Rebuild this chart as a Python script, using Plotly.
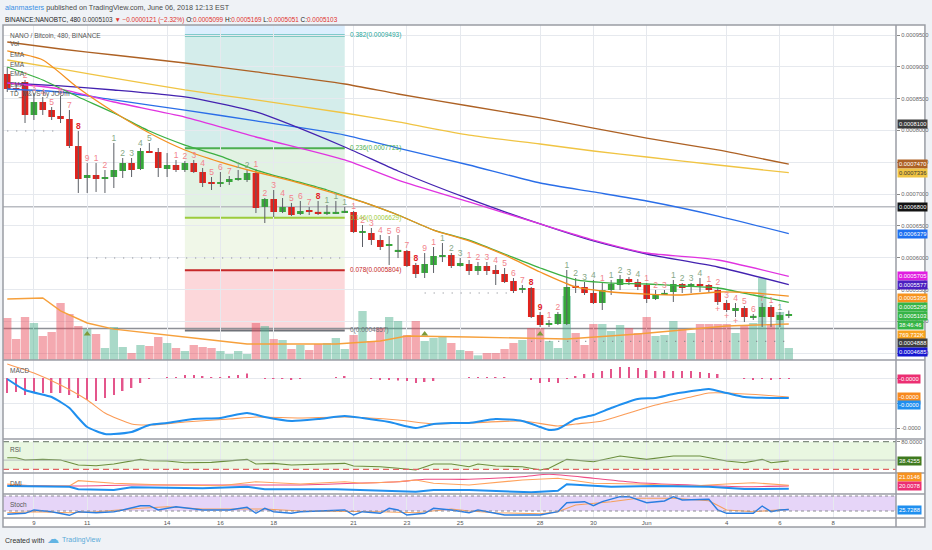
import pandas as pd
import plotly.graph_objects as go

FONT = "Liberation Sans, Arial, sans-serif"

# NANO/BTC, Binance, 480 min bars from 8 May 2018 (prices in 1e-7 BTC)
BAR_START = "2018-05-08 00:00"
X_RANGE = ["2018-05-07 20:10", "2018-06-10 08:34"]

opens_e7 = [8887, 8660, 8761, 8243, 8447, 8321, 8227, 8180, 7755, 7253,
            7300, 7237, 7268, 7363, 7488, 7394, 7661, 7661, 7394, 7457,
            7378, 7488, 7347, 7190, 7158, 7190, 7221, 7221, 7331, 6797,
            6923, 6718, 6797, 6687, 6750, 6718, 6710, 6702, 6718, 6718,
            6404, 6388, 6278, 6184, 6105, 6105, 5885, 5760, 5885, 6011,
            6042, 5870, 5901, 5791, 5870, 5807, 5744, 5634, 5492, 5524,
            5099, 4942, 4958, 4958, 5555, 5540, 5445, 5288, 5492, 5571,
            5665, 5618, 5571, 5351, 5429, 5461, 5587, 5540, 5571, 5571,
            5492, 5288, 5178, 5209, 5068, 5068, 5225, 5021, 5099]
highs_e7 = [8997, 8730, 8793, 8588, 8526, 8368, 8541, 8321, 7991, 7488,
            7488, 7378, 7803, 7567, 7567, 7724, 7803, 7724, 7645, 7535,
            7520, 7535, 7410, 7268, 7347, 7284, 7378, 7378, 7394, 6938,
            7064, 6938, 6860, 6891, 6797, 6891, 6828, 6891, 6797, 6734,
            6514, 6467, 6357, 6341, 6357, 6121, 5917, 6074, 6168, 6231,
            6074, 5995, 5964, 5932, 5932, 5885, 5838, 5681, 5571, 5540,
            5147, 5021, 5147, 5807, 5681, 5618, 5650, 5602, 5650, 5728,
            5697, 5665, 5602, 5492, 5492, 5650, 5602, 5602, 5681, 5587,
            5540, 5335, 5288, 5241, 5115, 5288, 5257, 5147, 5169]
lows_e7 = [8604, 8604, 8117, 8164, 8243, 8164, 8117, 7724, 7017, 7017,
           7033, 7017, 7095, 7253, 7268, 7378, 7645, 7268, 7268, 7347,
           7347, 7331, 7111, 7064, 7111, 7143, 7210, 7190, 6702, 6545,
           6640, 6702, 6655, 6671, 6671, 6671, 6671, 6695, 6702, 6388,
           6168, 6200, 6121, 5885, 5995, 5854, 5681, 5681, 5760, 5932,
           5838, 5860, 5728, 5728, 5728, 5571, 5602, 5445, 5445, 5052,
           4911, 4911, 4942, 4942, 5445, 5414, 5272, 5178, 5414, 5492,
           5571, 5492, 5288, 5335, 5414, 5304, 5445, 5445, 5461, 5461,
           5257, 5147, 5068, 4989, 5021, 4911, 4911, 4911, 5051]
closes_e7 = [8651, 8636, 8243, 8447, 8321, 8211, 8180, 7755, 7237, 7300,
             7237, 7268, 7378, 7488, 7378, 7677, 7655, 7410, 7457, 7378,
             7488, 7347, 7174, 7158, 7190, 7237, 7253, 7331, 6781, 6923,
             6718, 6797, 6671, 6734, 6718, 6702, 6712, 6718, 6734, 6404,
             6406, 6278, 6168, 6215, 6121, 5870, 5744, 5901, 6027, 6042,
             5870, 5917, 5791, 5870, 5791, 5744, 5618, 5477, 5524, 5068,
             4942, 4974, 5115, 5540, 5540, 5445, 5288, 5492, 5587, 5665,
             5618, 5540, 5351, 5429, 5445, 5587, 5524, 5587, 5568, 5492,
             5304, 5178, 5209, 5068, 5084, 5225, 5068, 5099, 5103]
volume_k = [899, 449, 920, 792, 514, 599, 1220, 984, 728, 663,
            556, 257, 706, 278, 150, 321, 300, 492, 364, 257,
            193, 321, 278, 257, 193, 128, 193, 128, 792, 728,
            449, 428, 235, 321, 214, 342, 364, 471, 235, 535,
            1049, 407, 685, 920, 835, 535, 835, 407, 471, 492,
            364, 214, 193, 100, 150, 150, 235, 364, 428, 685,
            685, 407, 257, 1370, 578, 321, 770, 770, 621, 749,
            685, 578, 920, 514, 535, 835, 663, 578, 770, 770,
            770, 770, 578, 749, 792, 1755, 770, 1027, 257]

# moving averages read at selected bars
ema_idx = [0, 6, 12, 20, 28, 38, 44, 52, 60, 66, 72, 80, 88]
ema_brown_e7 = [9390, 9280, 9186, 9060, 8919, 8730, 8573, 8384, 8196, 8038, 7881, 7693, 7470]
ema_gold_e7 = [9107, 8966, 8824, 8636, 8479, 8274, 8133, 7928, 7787, 7677, 7583, 7457, 7336]
ema_blue_e7 = [8651, 8604, 8479, 8321, 8149, 7928, 7724, 7457, 7174, 7033, 6891, 6655, 6379]
ema_indigo_e7 = [8746, 8699, 8636, 8526, 8290, 7740, 7363, 6923, 6530, 6263, 6058, 5854, 5577]
ema_magenta_e7 = [8746, 8651, 8447, 8211, 7897, 7536, 7221, 6876, 6530, 6278, 6074, 5964, 5705]
ema_fast_idx = [0, 4, 8, 12, 16, 20, 24, 28, 32, 36, 40, 44, 48, 52, 56, 60, 64, 68, 72, 76, 80, 84, 88]
ema_green_e7 = [8997, 8793, 8526, 8274, 7991, 7771, 7598, 7378, 7221, 7064, 6876, 6671,
                6435, 6278, 6058, 5838, 5650, 5602, 5587, 5555, 5524, 5414, 5298]
ema_orange_e7 = [9249, 9107, 8667, 8290, 7960, 7693, 7504, 7347, 7206, 7048, 6876, 6671,
                 6435, 6263, 6043, 5775, 5540, 5461, 5429, 5414, 5461, 5445, 5395]
vol_ma_idx = [0, 4, 6, 9, 12, 14, 22, 27, 37, 42, 45, 52, 58, 63, 71, 76, 81, 88]
vol_ma_k = [1305, 1327, 1050, 792, 660, 621, 449, 342, 342, 407, 514, 492, 471, 449, 556, 642, 728, 769.7]

# fib retracement drawn from bar 20 to bar 38
fib_ratios = ["0.382", "0.236", "0.146", "0.078", "0"]
fib_prices = [0.0009493, 0.0007721, 0.0006629, 0.0005804, 0.0004857]
fib_start, fib_end = 20, 38

# horizontal levels and TD support/resistance dots
level_prices = [0.00068, 0.0004888]
td_line_prices = [0.0007991, 0.0005995, 0.0005445, 0.0004685]
td_line_from = [0, 9, 47, 59]
td_line_to = [6, 38, 57, 88]

# TD sequential counts
td_idx = [2, 3, 4, 5, 6, 7, 8, 9, 10, 11, 12, 13, 14, 15, 16, 19, 20, 21, 22, 23, 24, 25,
          26, 27, 28, 29, 30, 31, 32, 33, 34, 35, 36, 37, 38, 39, 40, 41, 42, 43, 44, 45,
          46, 47, 48, 49, 50, 51, 52, 53, 54, 55, 56, 57, 58, 59, 60, 61, 62, 63, 64, 65,
          66, 67, 68, 69, 70, 71, 72, 73, 74, 75, 76, 77, 78, 79, 80, 81, 82, 83, 84, 85, 86, 87]
td_text = ["2", "3", "4", "5", "6", "7", "8", "9", "1", "2", "1", "2", "3", "4", "5", "1", "2", "3", "4", "5", "6", "7",
           "1", "2", "1", "2", "3", "4", "5", "6", "7", "8", "1", "1", "1", "1", "2", "3", "4", "5", "6", "7",
           "8", "9", "1", "1", "2", "3", "1", "2", "3", "4", "5", "6", "7", "8", "9", "1", "2", "1", "2", "3",
           "4", "1", "1", "2", "3", "4", "1", "2", "3", "1", "2", "3", "4", "1", "2", "3", "4", "5", "6", "7", "1", "1"]
td_kind = ["s", "s", "s", "s", "s", "s", "r", "s", "s", "s", "b", "b", "b", "b", "b", "s", "s", "s", "s", "s", "s", "s",
           "b", "b", "s", "s", "s", "s", "s", "s", "s", "r", "b", "b", "b", "s", "s", "s", "s", "s", "s", "s",
           "r", "s", "s", "b", "b", "b", "s", "s", "s", "s", "s", "s", "s", "r", "r", "s", "s", "b", "b", "b",
           "b", "s", "b", "b", "b", "b", "s", "s", "s", "b", "b", "b", "b", "s", "s", "s", "s", "s", "s", "s", "s", "b"]
td_plus_idx = [80, 81, 82]
setup_mark_idx = [9, 47, 60]
setup_mark_price = 0.000480

# MACD (values in 1e-6)
macd_idx = [0, 2, 5, 6, 7, 8, 9, 11, 12, 14, 16, 18, 21, 24, 27, 29, 32, 35, 38, 40, 43,
            46, 48, 50, 52, 55, 58, 60, 61, 62, 64, 66, 68, 71, 73, 75, 78, 79, 81, 83, 86, 88]
macd_e6 = [-0.4, -4.8, -7.6, -9.6, -12, -16, -19.6, -22.4, -22.4, -21.6, -18.8, -18, -16.4, -16,
           -14, -15.6, -17.2, -16.4, -15.2, -16, -17.6, -20, -18.4, -18, -18, -16.4, -17.2, -19.6,
           -20.8, -20.4, -16.4, -14.8, -12, -8.4, -8, -6.4, -4.8, -4.4, -6, -7.6, -8, -8]
signal_idx = [0, 3, 6, 9, 11, 14, 16, 20, 25, 28, 33, 38, 44, 48, 52, 58, 62, 64, 67, 70, 73, 77, 79, 81, 85, 88]
signal_e6 = [5.6, 2, -2.8, -8.8, -14, -18.4, -18.8, -17.6, -16.4, -15.6, -16, -15.6, -16.8,
             -18.4, -18, -17.2, -19.2, -18.4, -17.2, -14, -10.8, -7.6, -6, -6, -6.8, -7.6]
hist_e6 = [-6, -5.6, -6.8, -6, -6, -6, -6, -6.8, -8, -8.8,
           -9.2, -8, -6.8, -5.2, -4, -2, -0.4, 0, 0.4, 0.4,
           1.2, 1.2, 0.8, 0.4, 0.4, 0.8, 1.2, 1.8, 0, -0.2,
           -0.4, -0.4, -0.6, -0.4, 0, 0, 0, 0.4, 0.8, 0,
           0, -0.4, -0.8, -0.8, -1, -1.2, -2, -1.6, -1.2, 0,
           0, 0, 0.2, 0.4, 0.4, 0.4, 0.2, 0, 0, -0.8,
           -2, -1.6, -2, -0.4, 0.8, 1.6, 2, 2.8, 3.6, 4.4,
           4.4, 4, 3.2, 2.8, 2.8, 2.8, 2.8, 2.8, 2.4, 2,
           1.6, 0, 0, -0.4, -0.8, -0.4, -0.8, -0.4, -0.4]

rsi_idx = [0, 1, 2, 4, 6, 8, 10, 12, 15, 16, 18, 20, 23, 25, 27, 28, 30, 32, 35, 38, 39, 42,
           44, 46, 48, 50, 52, 53, 55, 58, 60, 61, 63, 66, 69, 72, 75, 78, 81, 83, 85, 86, 88]
rsi_vals = [45.2, 45, 40.2, 41.7, 40.2, 29.3, 27.8, 31.5, 41.7, 38.7, 38, 34.3, 35.2, 38, 41.7,
            31.5, 33, 29.3, 31.5, 33, 27.2, 25.7, 22.2, 18.5, 31.5, 31.5, 25.7, 31.5, 27.2, 25.7,
            18.5, 22.2, 41.7, 36.5, 48.9, 41.7, 48.9, 48.9, 38, 34.3, 41.7, 34.3, 38.4255]

adx_idx = [0, 7, 14, 22, 27, 33, 39, 44, 47, 52, 58, 61, 66, 71, 77, 83, 88]
adx_vals = [21.5, 19.8, 21.5, 21.5, 21.5, 21.5, 24.3, 27, 31, 31, 35.3, 39.3, 32.7, 25.3, 21.5, 18.7, 20.0078]
minus_di_idx = [0, 3, 7, 8, 12, 18, 24, 28, 33, 38, 40, 44, 46, 48, 52, 58, 62, 66, 71, 77, 81, 84, 88]
minus_di_vals = [23.2, 19.8, 19.8, 28.7, 24.3, 21.5, 20.3, 27, 23.2, 27, 24.3, 27, 29.8, 24.3,
                 21.5, 29.8, 32.7, 24.3, 23.2, 19.8, 23.2, 25.3, 21.0146]
plus_di_idx = [0, 7, 8, 12, 14, 22, 27, 29, 37, 40, 46, 48, 52, 59, 62, 63, 68, 73, 79, 83, 88]
plus_di_vals = [19.8, 18.7, 14.3, 13.2, 17.7, 16, 18.7, 14.3, 14.3, 13.2, 10.3, 13.2, 13.2, 9.3,
                12, 22.7, 18.7, 19.8, 18.7, 14.8, 15.3]

stoch_k_idx = [0, 2, 3, 5, 7, 8, 10, 12, 13, 15, 16, 17, 19, 20, 22, 25, 27, 28, 29, 30, 32, 33,
               38, 39, 40, 42, 43, 44, 45, 47, 48, 50, 52, 53, 56, 60, 62, 63, 65, 66, 67, 69,
               70, 72, 74, 75, 76, 79, 80, 81, 84, 85, 86, 87, 88]
stoch_k = [6.8, 10.8, 24, 17.2, 2.8, 17.2, 13.2, 17.2, 24, 41.2, 41.2, 24, 37.2, 33.2, 24, 24,
           34.8, 10.8, 30.8, 17.2, 10.8, 17.2, 24, 4, 17.2, 10.8, 30.8, 24, 4, 10.8, 30.8, 24,
           13.2, 24, 4, 4, 17.2, 53.2, 57.2, 41.2, 57.2, 77.2, 77.2, 53.2, 60, 77.2, 64, 66.8,
           24, 10.8, 10.8, 40, 17.2, 24, 25.7288]
stoch_d_idx = [0, 3, 7, 10, 15, 18, 22, 25, 29, 33, 39, 42, 46, 50, 52, 55, 60, 62, 64, 68, 71, 75, 79, 81, 84, 88]
stoch_d = [13.2, 17.2, 13.2, 17.2, 30.8, 37.2, 28, 28, 28, 20, 20, 17.2, 13.2, 28, 20, 13.2,
           9.2, 17.2, 44, 57.2, 70.8, 70.8, 61.2, 24, 17.2, 26.8]

price_ticks = [0.00045, 0.0005, 0.00055, 0.0006, 0.00065, 0.0007, 0.00075, 0.0008, 0.00085, 0.0009, 0.00095]
date_ticks = ["2018-05-09", "2018-05-11", "2018-05-14", "2018-05-16", "2018-05-18", "2018-05-21",
              "2018-05-23", "2018-05-25", "2018-05-28", "2018-05-30", "2018-06-01", "2018-06-04",
              "2018-06-06", "2018-06-08"]
date_labels = ["9", "11", "14", "16", "18", "21", "23", "25", "28", "30", "Jun", "4", "6", "8"]

# ---------------------------------------------------------------------------
GREEN, RED, WICK = "#37a93a", "#e1231d", "#5c5f66"
BAR_MS = 8 * 3600 * 1000
E7 = 1e-7
H_PX, TOP_PX, BOT_PX = 493, 25, 518


def py(px):
    """pixel row of the snapshot -> paper y"""
    return (BOT_PX - px) / H_PX


t = pd.date_range(BAR_START, periods=len(opens_e7), freq="8h")
o = [v * E7 for v in opens_e7]
h = [v * E7 for v in highs_e7]
lo = [v * E7 for v in lows_e7]
c = [v * E7 for v in closes_e7]
up = [cc >= oo for oo, cc in zip(o, c)]

fig = go.Figure()

# volume (base axis so candles draw on top)
vol_colors = ["rgba(76,175,140,0.48)" if u else "rgba(232,76,90,0.48)" for u in up]
fig.add_trace(go.Bar(x=t, y=volume_k, width=BAR_MS * 0.94, marker=dict(color=vol_colors, line_width=0),
                     yaxis="y"))
fig.add_trace(go.Scatter(x=t[vol_ma_idx], y=vol_ma_k, mode="lines", line=dict(color="#f6a03c", width=1.4),
                         yaxis="y"))

# TD dotted support/resistance
for lvl, a, b in zip(td_line_prices, td_line_from, td_line_to):
    fig.add_trace(go.Scatter(x=[t[a], t[b]], y=[lvl, lvl], mode="lines", yaxis="y2",
                             line=dict(color="#7d7f87", width=1.2, dash="1px,8px")))

# candles
wx, wy = [], []
for ti, hi, lw in zip(t, h, lo):
    wx += [ti, ti, None]
    wy += [lw, hi, None]
fig.add_trace(go.Scatter(x=wx, y=wy, mode="lines", line=dict(color=WICK, width=1), yaxis="y2"))
min_body = 2.0e-6
body_h = [max(abs(cc - oo), min_body) for oo, cc in zip(o, c)]
body_b = [min(oo, cc) - (bh - abs(cc - oo)) / 2 for oo, cc, bh in zip(o, c, body_h)]
fig.add_trace(go.Bar(x=t, y=body_h, base=body_b, width=BAR_MS * 0.74, yaxis="y2",
                     marker=dict(color=[GREEN if u else RED for u in up], line_width=0)))

# EMAs
for idx, vals, col in [(ema_idx, ema_brown_e7, "#ad6124"), (ema_idx, ema_gold_e7, "#f0c443"),
                       (ema_idx, ema_blue_e7, "#2a6ee8"), (ema_idx, ema_indigo_e7, "#4322b0"),
                       (ema_idx, ema_magenta_e7, "#e033e0"), (ema_fast_idx, ema_green_e7, "#3cb043"),
                       (ema_fast_idx, ema_orange_e7, "#f39020")]:
    fig.add_trace(go.Scatter(x=t[idx], y=[v * E7 for v in vals], mode="lines", yaxis="y2",
                             line=dict(color=col, width=1.3, shape="spline", smoothing=0.6)))

# TD counts
kind_color = {"s": "#f2848c", "b": "#86a886", "r": "#e3252b"}
fig.add_trace(go.Scatter(x=t[td_idx], y=[h[i] for i in td_idx], mode="text", yaxis="y2",
                         text=[f"<b>{s}</b>" if k == "r" else s for s, k in zip(td_text, td_kind)],
                         textposition="top center", cliponaxis=False,
                         textfont=dict(size=8.5, family=FONT, color=[kind_color[k] for k in td_kind])))
fig.add_trace(go.Scatter(x=t[td_plus_idx], y=[lo[i] for i in td_plus_idx], mode="text", yaxis="y2",
                         text=["+"] * len(td_plus_idx), textposition="bottom center",
                         textfont=dict(size=9, color="#f2848c", family=FONT)))
fig.add_trace(go.Scatter(x=t[setup_mark_idx], y=[setup_mark_price] * len(setup_mark_idx), mode="markers",
                         yaxis="y2", marker=dict(symbol="triangle-up", size=6, color="#7d9a3a")))

# MACD
fig.add_trace(go.Bar(x=t, y=hist_e6, width=BAR_MS * 0.17, marker=dict(color="#e4558b", line_width=0),
                     yaxis="y3"))
fig.add_trace(go.Scatter(x=t[signal_idx], y=signal_e6, mode="lines", yaxis="y3",
                         line=dict(color="#fb9b56", width=1.1, shape="spline", smoothing=0.6)))
fig.add_trace(go.Scatter(x=t[macd_idx], y=macd_e6, mode="lines", yaxis="y3",
                         line=dict(color="#1f8fef", width=2, shape="spline", smoothing=0.6)))

# RSI
fig.add_trace(go.Scatter(x=t[rsi_idx], y=rsi_vals, mode="lines", yaxis="y4",
                         line=dict(color="#6b8e3c", width=1.1)))

# DMI
fig.add_trace(go.Scatter(x=t[adx_idx], y=adx_vals, mode="lines", yaxis="y5",
                         line=dict(color="#ee4d85", width=1.1, shape="spline", smoothing=0.6)))
fig.add_trace(go.Scatter(x=t[minus_di_idx], y=minus_di_vals, mode="lines", yaxis="y5",
                         line=dict(color="#ffa35c", width=1.1)))
fig.add_trace(go.Scatter(x=t[plus_di_idx], y=plus_di_vals, mode="lines", yaxis="y5",
                         line=dict(color="#1f8fef", width=2)))

# Stoch
fig.add_trace(go.Scatter(x=t[stoch_d_idx], y=stoch_d, mode="lines", yaxis="y6",
                         line=dict(color="#f6a05c", width=1.1)))
fig.add_trace(go.Scatter(x=t[stoch_k_idx], y=stoch_k, mode="lines", yaxis="y6",
                         line=dict(color="#2a7de1", width=1.4)))

# ---------------------------------------------------------------------------
shapes = []
# white chart frame
shapes.append(dict(type="rect", xref="paper", yref="paper", x0=0, x1=1.0324, y0=py(527), y1=1,
                   fillcolor="white", line_width=0, layer="below"))

# fib zones
fib_fills = ["rgba(38,166,154,0.20)", "rgba(76,175,80,0.16)", "rgba(139,195,74,0.13)", "rgba(242,54,69,0.20)"]
fib_lines = ["#26a69a", "#4caf50", "#9ccc3c", "#c62828", "#6f7279"]
x0, x1 = t[fib_start], t[fib_end]
shapes.append(dict(type="rect", xref="x", yref="y2", x0=x0, x1=x1, y0=fib_prices[0], y1=0.00098,
                   fillcolor="rgba(33,150,243,0.16)", line_width=0, layer="below"))
for i in range(4):
    shapes.append(dict(type="rect", xref="x", yref="y2", x0=x0, x1=x1, y0=fib_prices[i + 1], y1=fib_prices[i],
                       fillcolor=fib_fills[i], line_width=0, layer="below"))
for p, col in zip(fib_prices, fib_lines):
    shapes.append(dict(type="line", xref="x", yref="y2", x0=x0, x1=x1, y0=p, y1=p,
                       line=dict(color=col, width=2), layer="below"))

for lvl, col in zip(level_prices, ["#b9bcc2", "#8e9197"]):
    shapes.append(dict(type="line", xref="x", yref="y2", x0=X_RANGE[0], x1=X_RANGE[1], y0=lvl, y1=lvl,
                       line=dict(color=col, width=1.6), layer="below"))

# RSI band
shapes.append(dict(type="rect", xref="x", yref="y4", x0=X_RANGE[0], x1=X_RANGE[1], y0=20, y1=80,
                   fillcolor="#e9f7e1", line_width=0, layer="below"))
shapes.append(dict(type="line", xref="x", yref="y4", x0=X_RANGE[0], x1=X_RANGE[1], y0=80, y1=80,
                   line=dict(color="#7f8c7f", width=1.2, dash="6px,4px")))
shapes.append(dict(type="line", xref="x", yref="y4", x0=X_RANGE[0], x1=X_RANGE[1], y0=20, y1=20,
                   line=dict(color="#e06363", width=1.2, dash="6px,4px")))
shapes.append(dict(type="line", xref="x", yref="y4", x0=X_RANGE[0], x1=X_RANGE[1], y0=40, y1=40,
                   line=dict(color="#a9aeb4", width=0.8)))
# Stoch band
shapes.append(dict(type="rect", xref="x", yref="y6", x0=X_RANGE[0], x1=X_RANGE[1], y0=20, y1=80,
                   fillcolor="#e6d5f8", line_width=0, layer="below"))
for lvl in (80, 20):
    shapes.append(dict(type="line", xref="x", yref="y6", x0=X_RANGE[0], x1=X_RANGE[1], y0=lvl, y1=lvl,
                       line=dict(color="#8c8c94", width=1, dash="3px,3px")))

# frame and pane separators
FRAME = "#9a9da4"
shapes.append(dict(type="rect", xref="paper", yref="paper", x0=0, x1=1.0324, y0=py(527), y1=1,
                   line=dict(color=FRAME, width=1.5)))
shapes.append(dict(type="line", xref="paper", yref="paper", x0=1, x1=1, y0=py(527), y1=1,
                   line=dict(color=FRAME, width=1.5)))
for px in (360, 439, 473, 494, 518):
    shapes.append(dict(type="line", xref="paper", yref="paper", x0=0, x1=1.0324, y0=py(px), y1=py(px),
                       line=dict(color=FRAME, width=1.6)))

# ---------------------------------------------------------------------------
ann = []


def note(text, x, y, xref="paper", yref="paper", size=6.5, color="#4a4a4a", xanchor="left", **kw):
    ann.append(dict(text=text, x=x, y=y, xref=xref, yref=yref, showarrow=False, xanchor=xanchor,
                    yanchor="middle", font=dict(size=size, color=color, family=FONT), **kw))


note('<span style="color:#3a8fe4">alanmasters</span> published on TradingView.com, June 06, 2018 12:13 EST',
     0, py(7), size=7.2)
note('BINANCE:NANOBTC, 480 <span style="color:#333">0.0005103</span> <span style="color:#e0312b">▼ −0.0000121 (−2.32%)</span>'
     ' O:<span style="color:#e0312b">0.0005099</span> H:<span style="color:#e0312b">0.0005169</span>'
     ' L:<span style="color:#e0312b">0.0005051</span> C:<span style="color:#e0312b">0.0005103</span>',
     0, py(20), size=6.4, color="#1a1a1a")
note("Created with", 0, py(540), size=7, color="#333")
ann.append(dict(text="☁", x=0.047, y=py(539), xref="paper", yref="paper", showarrow=False,
                xanchor="left", yanchor="middle", font=dict(size=12, color="#62b4e3", family="DejaVu Sans")))
note("TradingView", 0.064, py(540), size=7, color="#5aaad8")

for txt, px in [("NANO / Bitcoin, 480, BINANCE", 35), ("Vol", 44), ("EMA", 54), ("EMA", 64),
                ("EMA", 74), ("EMA", 84), ("TD_M&VS by JOUm", 94)]:
    note(txt, 0, py(px), xshift=5, size=6.5, color="#555")
for txt, px in [("MACD", 370), ("RSI", 449), ("DMI", 483), ("Stoch", 504)]:
    note(txt, 0, py(px), xshift=5, size=6.5, color="#555")

for r, p, col in zip(fib_ratios, fib_prices, fib_lines):
    note(f"{r}({p:.7f})", x1, p, xref="x", yref="y2", size=6.5, color=col, xshift=3)

side = [("0.0008100", 0.00081, "y2", "#3b3b3b", "white", 0),
        ("0.0007470", 0.000747, "y2", "#ad6124", "white", 0),
        ("0.0007336", 0.0007336, "y2", "#f0c443", "#333", 0),
        ("0.0006800", 0.00068, "y2", "#131313", "white", 0),
        ("0.0006379", 0.0006379, "y2", "#1e6ff0", "white", 0),
        ("0.0005705", 0.0005705, "y2", "#e01ee0", "white", 0),
        ("0.0005577", 0.0005577, "y2", "#4a1fc0", "white", 0),
        ("0.0005395", 0.0005395, "y2", "#f7931e", "white", -2),
        ("0.0005298", 0.0005298, "y2", "#36b446", "white", -5),
        ("0.0005103", 0.0005103, "y2", "#36b446", "white", -1),
        ("38:46:46", 0.0005103, "y2", "#36b446", "white", -10),
        ("769.732K", 769.7, "y", "#f7a21e", "white", -11),
        ("0.0004888", 0.0004888, "y2", "#3d3d3d", "white", -15),
        ("0.0004685", 0.0004685, "y2", "#1616d0", "white", -11),
        ("-0.0000", hist_e6[-1], "y3", "#ec2f72", "white", 0),
        ("-0.0000", signal_e6[-1], "y3", "#f7891e", "white", 0),
        ("-0.0000", macd_e6[-1], "y3", "#1f8fef", "white", -7),
        ("38.4255", rsi_vals[-1], "y4", "#3f7a1f", "white", 0),
        ("21.0146", minus_di_vals[-1], "y5", "#f7921e", "white", 8),
        ("20.0078", adx_vals[-1], "y5", "#ec2f72", "white", 0),
        ("25.7288", stoch_k[-1], "y6", "#1f8fef", "white", 0)]
for txt, val, yref, bg, fg, shift in side:
    ann.append(dict(text=txt, x=1, xref="paper", xanchor="left", xshift=1, y=val, yref=yref,
                    yanchor="middle", yshift=shift, showarrow=False, bgcolor=bg, borderpad=1,
                    font=dict(size=5.8, color=fg, family=FONT)))

axis_font = dict(size=5.8, color="#666", family=FONT)
grid = "#e6e9ee"
fig.update_layout(
    width=932, height=550,
    margin=dict(l=3, r=33, t=TOP_PX, b=550 - BOT_PX),
    paper_bgcolor="#eff2f6", plot_bgcolor="white",
    showlegend=False, barmode="overlay",
    font=dict(family=FONT, size=7, color="#4a4a4a"),
    shapes=shapes, annotations=ann,
    xaxis=dict(type="date", range=X_RANGE, anchor="y6", tickvals=date_ticks, ticktext=date_labels,
               showgrid=True, gridcolor=grid, zeroline=False, showline=False, ticks="",
               tickfont=dict(size=6, color="#555", family=FONT), rangeslider=dict(visible=False),
               fixedrange=True),
    yaxis=dict(domain=[py(360), 1], range=[0, 7170], visible=False, fixedrange=True),
    yaxis2=dict(overlaying="y", side="right", anchor="x", range=[0.00043923, 0.00096572],
                tickvals=price_ticks, ticktext=[f"{v:.7f}" for v in price_ticks], tickfont=axis_font,
                showgrid=True, gridcolor=grid, zeroline=False, ticks="outside", ticklen=3,
                tickcolor="#888", fixedrange=True),
    yaxis3=dict(domain=[py(439), py(360)], anchor="x", side="right", range=[-24.4, 7.2],
                tickvals=[0, -10, -20], ticktext=["0.0000", "-0.0000", "-0.0000"], tickfont=axis_font,
                showgrid=True, gridcolor=grid, zeroline=False, ticks="outside", ticklen=3, tickcolor="#888"),
    yaxis4=dict(domain=[py(473), py(439)], anchor="x", side="right", range=[12, 85.9],
                tickvals=[80], ticktext=["80.0000"], tickfont=axis_font, showgrid=False, zeroline=False,
                ticks="outside", ticklen=3, tickcolor="#888"),
    yaxis5=dict(domain=[py(494), py(473)], anchor="x", side="right", range=[6.5, 41.5],
                showticklabels=False, showgrid=False, zeroline=False),
    yaxis6=dict(domain=[0, py(494)], anchor="x", side="right", range=[-8, 88],
                showticklabels=False, showgrid=False, zeroline=False),
)

# the page body keeps its default 8px margin otherwise, which shifts the whole chart
fig.write_html("out.html", config={"displayModeBar": False},
               post_script="document.body.style.margin='0';")
